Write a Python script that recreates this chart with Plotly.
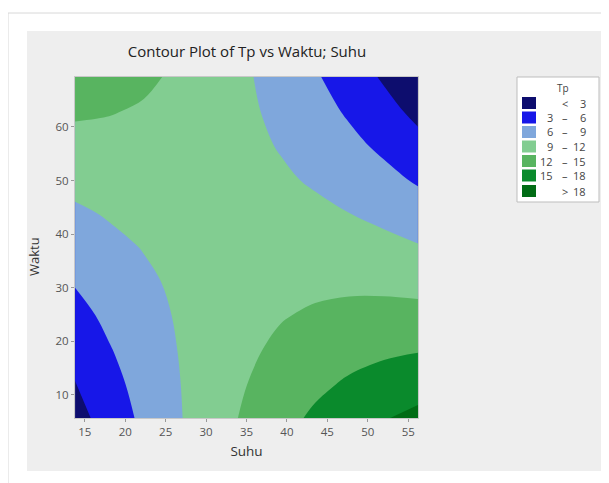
import plotly.graph_objects as go

# ---- data ----
suhu = [13.8, 18.0, 22.3, 26.5, 30.8, 35.0, 39.2, 43.5, 47.7, 52.0, 56.2]
waktu = [5.7, 12.0, 18.4, 24.8, 31.1, 37.5, 43.9, 50.2, 56.6, 63.0, 69.3]
# Tp values; one row per waktu value, one column per suhu value
tp = [
    [1.87, 4.33, 6.61, 8.73, 10.67, 12.45, 14.05, 15.48, 16.74, 17.83, 18.75],
    [2.90, 5.06, 7.04, 8.86, 10.50, 11.97, 13.27, 14.41, 15.37, 16.15, 16.77],
    [3.96, 5.82, 7.51, 9.02, 10.36, 11.53, 12.53, 13.37, 14.02, 14.51, 14.83],
    [5.06, 6.62, 8.00, 9.22, 10.26, 11.13, 11.83, 12.36, 12.72, 12.90, 12.92],
    [6.20, 7.46, 8.54, 9.45, 10.19, 10.76, 11.16, 11.39, 11.45, 11.33, 11.05],
    [7.37, 8.33, 9.11, 9.72, 10.16, 10.43, 10.53, 10.46, 10.21, 9.80, 9.21],
    [8.58, 9.23, 9.71, 10.02, 10.16, 10.13, 9.93, 9.56, 9.01, 8.30, 7.41],
    [9.82, 10.17, 10.35, 10.36, 10.20, 9.87, 9.37, 8.69, 7.85, 6.83, 5.64],
    [11.09, 11.15, 11.03, 10.74, 10.27, 9.64, 8.84, 7.86, 6.72, 5.40, 3.91],
    [12.41, 12.16, 11.74, 11.15, 10.38, 9.45, 8.35, 7.07, 5.62, 4.00, 2.21],
    [13.75, 13.20, 12.48, 11.59, 10.53, 9.29, 7.89, 6.31, 4.56, 2.64, 0.55],
]
levels = [3, 6, 9, 12, 15, 18]
legend_left = ["", "3", "6", "9", "12", "15", ""]
legend_mid = ["<", "–", "–", "–", "–", "–", ">"]
legend_right = ["3", "6", "9", "12", "15", "18", "18"]
band_colors = ["#0d0d6e", "#1717e8", "#7fa7dc", "#82cd91", "#58b460", "#0a8a2c", "#016c15"]
x_ticks = [15, 20, 25, 30, 35, 40, 45, 50, 55]
y_ticks = [10, 20, 30, 40, 50, 60]

# ---- figure geometry (window pixels; page body has an 8px margin) ----
OFF = 8
W, H = 609 - OFF, 483 - OFF
L, R, T, B = 75 - OFF, 418 - OFF, 77 - OFF, 418 - OFF


def px(x):
    return (x - OFF - L) / (R - L)


def py(y):
    return (B - (y - OFF)) / (B - T)


n = len(band_colors)
cscale = []
for i, c in enumerate(band_colors):
    a = max(0.0, (i - 0.5) / (n - 1))
    b = min(1.0, (i + 0.5) / (n - 1))
    cscale.append([a, c])
    cscale.append([b, c])

step = levels[1] - levels[0]
fig = go.Figure(go.Contour(
    x=suhu, y=waktu, z=tp,
    contours=dict(start=levels[0], end=levels[-1], size=step, coloring="fill"),
    colorscale=cscale, zauto=False,
    zmin=levels[0] - step / 2, zmax=levels[-1] + step / 2,
    line=dict(width=0, smoothing=1.0),
    showscale=False, hoverinfo="skip",
))

font = "Open Sans, Noto Sans, sans-serif"
txt = "#444"
shapes = [
    # outer faint frame
    dict(type="rect", xref="paper", yref="paper", layer="below",
         x0=px(8), x1=px(640), y0=py(520), y1=py(13),
         line=dict(color="#d8d8d8", width=1), fillcolor="#ffffff"),
    # grey panel
    dict(type="rect", xref="paper", yref="paper", layer="below",
         x0=px(27), x1=px(603), y0=py(471), y1=py(31),
         line=dict(width=0), fillcolor="#eeeeee"),
    # legend box
    dict(type="rect", xref="paper", yref="paper",
         x0=px(517), x1=px(599), y0=py(202), y1=py(77),
         line=dict(color="#bdbdbd", width=1), fillcolor="#ffffff"),
]
annotations = [
    dict(text="Tp", x=px(563), y=py(88), xref="paper", yref="paper",
         xanchor="center", yanchor="middle",
         showarrow=False, font=dict(family=font, size=10, color=txt)),
    dict(text="Waktu", x=px(34), y=py(257), xref="paper", yref="paper",
         xanchor="center", yanchor="middle", textangle=-90,
         showarrow=False, font=dict(family=font, size=13, color="#333")),
]
row_y = [103, 117.5, 132, 146.5, 161, 175.5, 191]
for i, c in enumerate(band_colors):
    yc = row_y[i]
    shapes.append(dict(type="rect", xref="paper", yref="paper",
                       x0=px(522), x1=px(536), y0=py(yc + 6), y1=py(yc - 6),
                       line=dict(width=0), fillcolor=c))
    if legend_left[i]:
        annotations.append(dict(text=legend_left[i], x=px(555), y=py(yc), xref="paper", yref="paper",
                                xanchor="right", yanchor="middle", showarrow=False,
                                font=dict(family=font, size=11, color=txt)))
    annotations.append(dict(text=legend_mid[i], x=px(565), y=py(yc), xref="paper", yref="paper",
                            xanchor="center", yanchor="middle", showarrow=False,
                            font=dict(family=font, size=11, color=txt)))
    annotations.append(dict(text=legend_right[i], x=px(588), y=py(yc), xref="paper", yref="paper",
                            xanchor="right", yanchor="middle", showarrow=False,
                            font=dict(family=font, size=11, color=txt)))

fig.update_layout(
    width=W, height=H,
    margin=dict(l=L, r=W - R, t=T, b=H - B, pad=0),
    paper_bgcolor="#ffffff", plot_bgcolor="#eeeeee",
    title=dict(text="Contour Plot of Tp vs Waktu; Suhu", x=(247 - OFF) / W, xanchor="center",
               y=1 - (52 - OFF) / H, yanchor="middle",
               font=dict(family=font, size=15, color="#222")),
    shapes=shapes, annotations=annotations, showlegend=False,
)
fig.update_xaxes(range=[13.79, 56.21], tickvals=x_ticks, ticks="outside", ticklen=3,
                 tickcolor="#999", showgrid=False, zeroline=False, showline=True,
                 linecolor="#c8c8c8", mirror=True,
                 tickfont=dict(family=font, size=11.5, color="#555"),
                 title=dict(text="Suhu", font=dict(family=font, size=13.5, color="#333"), standoff=8))
fig.update_yaxes(range=[5.68, 69.32], tickvals=y_ticks, ticks="outside", ticklen=3,
                 tickcolor="#999", showgrid=False, zeroline=False, showline=True,
                 linecolor="#c8c8c8", mirror=True,
                 tickfont=dict(family=font, size=11.5, color="#555"))

fig.write_html("out.html")
